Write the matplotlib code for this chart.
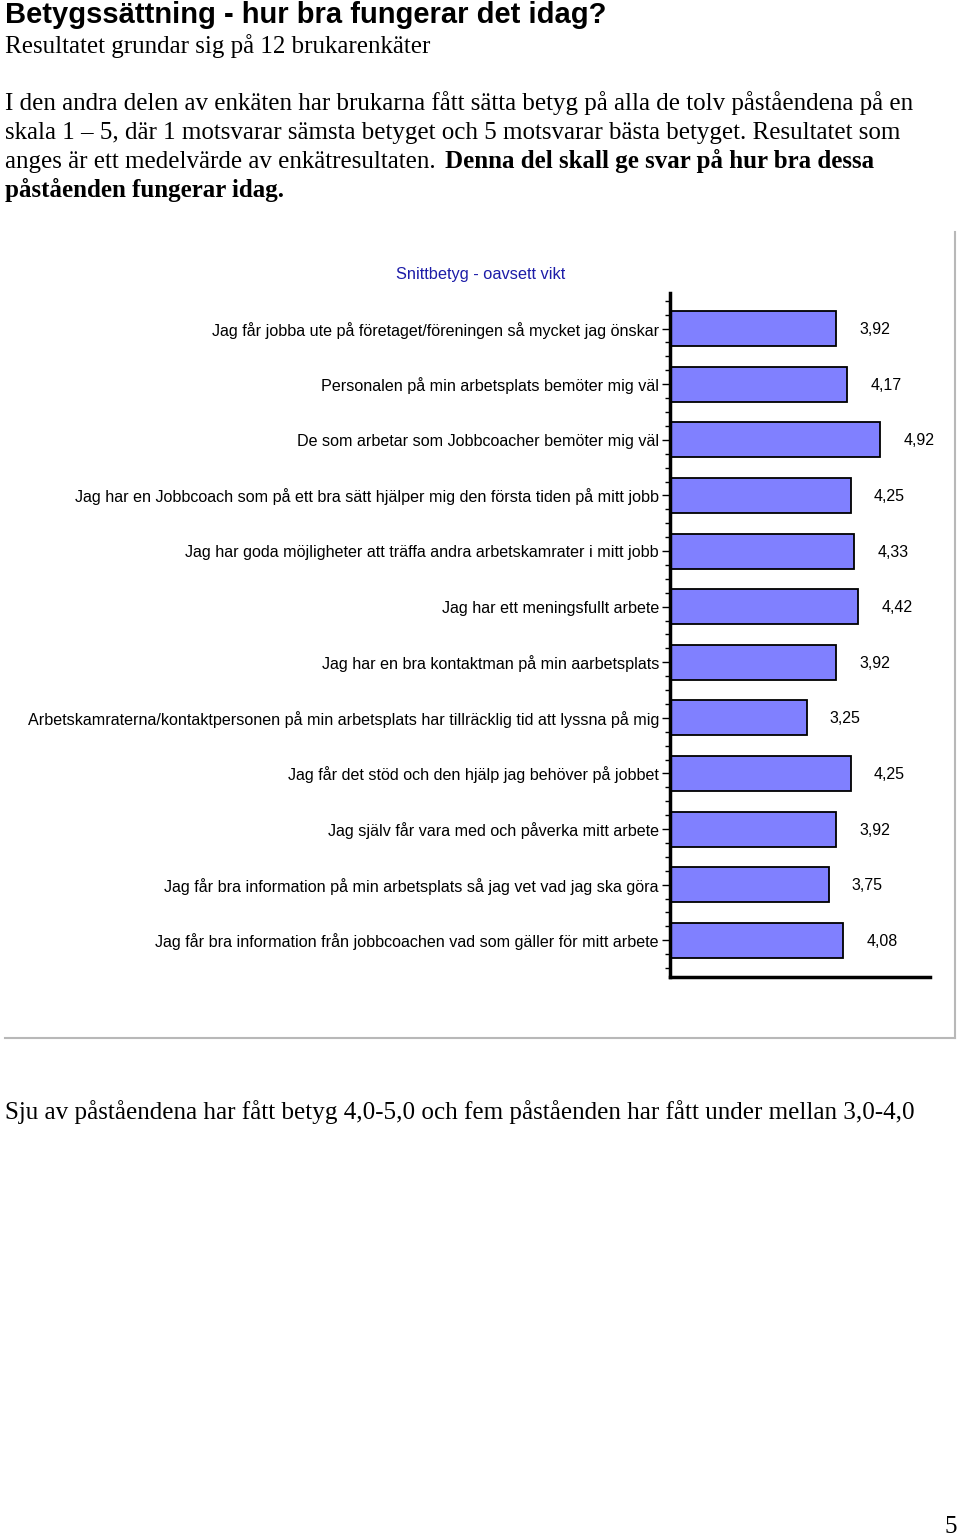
import matplotlib
matplotlib.use("Agg")
import matplotlib.pyplot as plt
from matplotlib.ticker import FixedLocator

# statements, top to bottom
statements = [
    "Jag får jobba ute på företaget/föreningen så mycket jag önskar",
    "Personalen på min arbetsplats bemöter mig väl",
    "De som arbetar som Jobbcoacher bemöter mig väl",
    "Jag har en Jobbcoach som på ett bra sätt hjälper mig den första tiden på mitt jobb",
    "Jag har goda möjligheter att träffa andra arbetskamrater i mitt jobb",
    "Jag har ett meningsfullt arbete",
    "Jag har en bra kontaktman på min aarbetsplats",
    "Arbetskamraterna/kontaktpersonen på min arbetsplats har tillräcklig tid att lyssna på mig",
    "Jag får det stöd och den hjälp jag behöver på jobbet",
    "Jag själv får vara med och påverka mitt arbete",
    "Jag får bra information på min arbetsplats så jag vet vad jag ska göra",
    "Jag får bra information från jobbcoachen vad som gäller för mitt arbete",
]
scores = [3.92, 4.17, 4.92, 4.25, 4.33, 4.42, 3.92, 3.25, 4.25, 3.92, 3.75, 4.08]
score_labels = ["3,92", "4,17", "4,92", "4,25", "4,33", "4,42",
                "3,92", "3,25", "4,25", "3,92", "3,75", "4,08"]

chart_title = "Snittbetyg - oavsett vikt"
heading = "Betygssättning - hur bra fungerar det idag?"
intro = "Resultatet grundar sig på 12 brukarenkäter"
body_lines = [
    "I den andra delen av enkäten har brukarna fått sätta betyg på alla de tolv påståendena på en",
    "skala 1 – 5, där 1 motsvarar sämsta betyget och 5 motsvarar bästa betyget. Resultatet som",
]
body_mixed = ("anges är ett medelvärde av enkätresultaten. ", "Denna del skall ge svar på hur bra dessa")
body_last = "påståenden fungerar idag."
summary = "Sju av påståendena har fått betyg 4,0-5,0 och fem påståenden har fått under mellan 3,0-4,0"

W, H = 960, 1537
fig = plt.figure(figsize=(W / 100, H / 100), dpi=100)


def px(x, y):
    return x / W, 1 - y / H


SANS = "Liberation Sans"
SERIF = "Liberation Serif"

# page text
fig.text(*px(5, 23), heading, family=SANS, weight="bold", fontsize=21, va="baseline")
fig.text(*px(5, 53), intro, family=SERIF, fontsize=18, va="baseline")
for i, line in enumerate(body_lines):
    fig.text(*px(5, 110 + 29 * i), line, family=SERIF, fontsize=18, va="baseline")
fig.text(*px(5, 168), body_mixed[0], family=SERIF, fontsize=18, va="baseline")
fig.text(*px(445, 168), body_mixed[1], family=SERIF, weight="bold", fontsize=18, va="baseline")
fig.text(*px(5, 197), body_last, family=SERIF, weight="bold", fontsize=18, va="baseline")
fig.text(*px(5, 1119), summary, family=SERIF, fontsize=18.1, va="baseline")
fig.text(*px(945, 1533), "5", family=SERIF, fontsize=18, va="baseline")

# chart frame (right and bottom gray lines)
fig.add_artist(plt.Line2D([955 / W, 955 / W], [1 - 232 / H, 1 - 1038 / H],
                          color="#b8b8b8", lw=1.5))
fig.add_artist(plt.Line2D([5 / W, 955 / W], [1 - 1038 / H, 1 - 1038 / H],
                          color="#b8b8b8", lw=1.5))

fig.text(*px(481, 274), chart_title, family=SANS, fontsize=11.8, color="#1c1ca8",
         ha="center", va="center")

# bar chart
ax = fig.add_axes([670 / W, 1 - 977 / H, 260 / W, (977 - 293) / H])
y = list(range(len(statements)))
ax.barh(y, scores, height=0.63, left=0, color="#8080ff", edgecolor="black", linewidth=1.3)
for yi, s, lab in zip(y, scores, score_labels):
    ax.annotate(lab, (s, yi), xytext=(23, -1), textcoords="offset pixels",
                family=SANS, fontsize=11.5, va="center", ha="left")

ax.set_xlim(0.14, 6.05)
ax.set_ylim(11.66, -0.64)
ax.set_yticks(y)
ax.set_yticklabels(statements, family=SANS, fontsize=11.6)
ax.yaxis.set_minor_locator(FixedLocator([k * 0.25 - 0.5 for k in range(49)]))
ax.tick_params(axis="y", which="major", length=6, width=1, pad=2)
ax.tick_params(axis="y", which="minor", length=3.5, width=1)
ax.set_xticks([])
for side in ("top", "right"):
    ax.spines[side].set_visible(False)
ax.spines["left"].set_linewidth(2.5)
ax.spines["bottom"].set_linewidth(2.5)
ax.patch.set_alpha(0)

fig.savefig("out.png", dpi=100)
